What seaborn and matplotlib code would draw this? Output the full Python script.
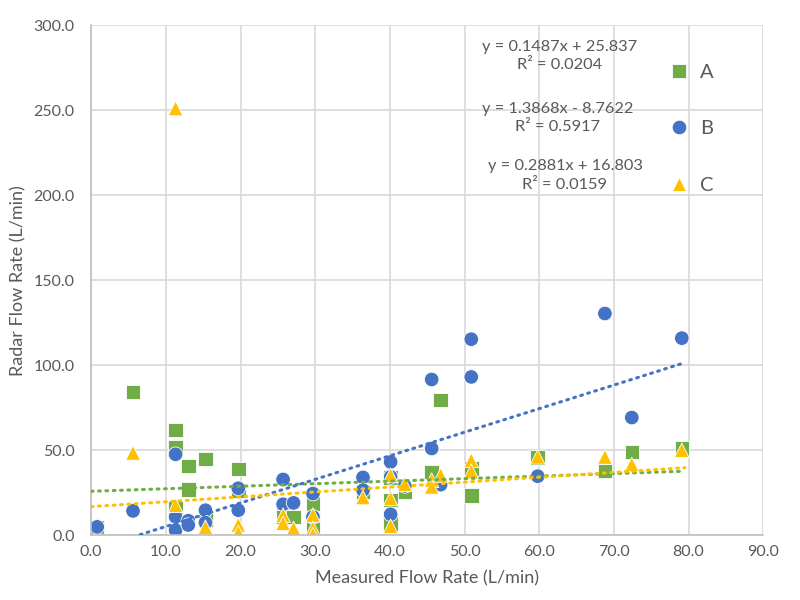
import numpy as np
import pandas as pd
import matplotlib
matplotlib.use('Agg')
import matplotlib.pyplot as plt
import seaborn as sns

a_x = [0.8, 5.6, 11.3, 11.3, 11.3, 13.0, 13.0, 15.3, 15.3, 19.7, 19.7, 25.7, 25.7, 27.1,
       29.7, 29.7, 29.7, 36.4, 40.1, 40.1, 40.1, 42.0, 45.6, 46.8, 50.9, 50.9, 59.8, 68.8,
       72.4, 79.1]
a_y = [4.9, 84.3, 61.8, 52.0, 16.0, 40.8, 27.0, 44.7, 9.0, 39.0, 26.0, 16.7, 10.8, 10.8,
       18.8, 8.8, 5.0, 25.5, 34.0, 20.6, 6.9, 25.5, 37.3, 79.6, 39.2, 23.5, 45.7, 37.8,
       49.0, 51.0]

b_x = [0.8, 5.6, 11.3, 11.3, 11.3, 13.0, 13.0, 15.3, 15.3, 19.7, 19.7, 25.7, 25.7, 27.1,
       29.7, 29.7, 36.4, 36.4, 40.1, 40.1, 40.1, 42.0, 45.6, 45.6, 46.8, 50.9, 50.9, 59.8,
       68.8, 72.4, 79.1]
b_y = [4.9, 14.3, 47.6, 10.8, 3.0, 8.5, 6.0, 14.7, 7.4, 27.6, 14.7, 32.8, 18.2, 19.0,
       24.5, 10.8, 34.0, 26.5, 43.1, 34.3, 12.3, 29.0, 91.6, 51.0, 29.7, 115.3, 93.1, 34.7,
       130.4, 69.2, 115.9]

c_x = [5.6, 11.3, 11.3, 15.3, 19.7, 19.7, 25.7, 25.7, 27.1, 29.7, 29.7, 29.7, 36.4, 40.1,
       40.1, 40.1, 42.0, 45.6, 45.6, 46.8, 50.9, 50.9, 59.8, 68.8, 72.4, 79.1]
c_y = [48.4, 251.0, 17.6, 4.7, 6.0, 1.5, 11.8, 7.0, 4.0, 11.8, 4.0, 0.5, 22.2, 35.3,
       21.6, 5.3, 30.0, 32.4, 28.4, 35.3, 44.0, 37.6, 46.1, 46.0, 41.6, 50.0]

# 趋势线 (图中公式)
series = ['A', 'B', 'C']
slopes = [0.1487, 1.3868, 0.2881]
intercepts = [25.837, -8.7622, 16.803]
r2 = ['0.0204', '0.5917', '0.0159']
equations = ['y = 0.1487x + 25.837', 'y = 1.3868x - 8.7622', 'y = 0.2881x + 16.803']

colors = {'A': '#70AD47', 'B': '#4472C4', 'C': '#FFC000'}
markers = {'A': 's', 'B': 'o', 'C': '^'}

df = pd.concat([
    pd.DataFrame({'x': a_x, 'y': a_y, 'series': 'A'}),
    pd.DataFrame({'x': b_x, 'y': b_y, 'series': 'B'}),
    pd.DataFrame({'x': c_x, 'y': c_y, 'series': 'C'}),
], ignore_index=True)

sns.set_style('white')
plt.rcParams['font.family'] = ['Lato', 'DejaVu Sans']
grey = '#595959'

fig = plt.figure(figsize=(8, 6), dpi=100)
ax = fig.add_axes([0.114, 0.108, 0.84, 0.85])

sns.scatterplot(data=df, x='x', y='y', hue='series', style='series',
                palette=colors, markers=markers, s=110, linewidth=0.6,
                edgecolor='white', ax=ax, zorder=2)

# 趋势线
for i, name in enumerate(series):
    xs = np.array([0.0, 79.5])
    ax.plot(xs, slopes[i] * xs + intercepts[i], color=colors[name], lw=2.2,
            linestyle=(0, (0.6, 1.8)), dash_capstyle='round', zorder=3)

ax.set_xlim(0, 90)
ax.set_ylim(0, 300)
ax.set_xticks(np.arange(0, 91, 10))
ax.set_yticks(np.arange(0, 301, 50))
ax.xaxis.set_major_formatter(matplotlib.ticker.FormatStrFormatter('%.1f'))
ax.yaxis.set_major_formatter(matplotlib.ticker.FormatStrFormatter('%.1f'))
ax.tick_params(axis='both', length=0, labelsize=11.5, labelcolor=grey)
ax.tick_params(axis='y', pad=12)
ax.tick_params(axis='x', pad=7)
ax.grid(True, color='#D9D9D9', lw=1.2)
ax.set_axisbelow(True)
for s in ['top', 'right']:
    ax.spines[s].set_visible(False)
for s in ['left', 'bottom']:
    ax.spines[s].set_color('#BFBFBF')
    ax.spines[s].set_linewidth(1.2)

ax.set_xlabel('Measured Flow Rate (L/min)', fontsize=13, color=grey, labelpad=8)
ax.set_ylabel('Radar Flow Rate (L/min)', fontsize=13, color=grey, labelpad=5)

# 公式文本
eq_pos = [(0.697, 0.94), (0.694, 0.818), (0.705, 0.705)]
for i in range(3):
    px, py = eq_pos[i]
    ax.text(px, py, equations[i] + '\nR² = ' + r2[i], transform=ax.transAxes,
            ha='center', va='center', fontsize=11.8, color=grey, linespacing=1.4)

handles, labels = ax.get_legend_handles_labels()
leg = ax.legend(handles, labels, loc='upper left', bbox_to_anchor=(0.818, 0.96),
                frameon=False, fontsize=14.5, labelspacing=1.95, handletextpad=0.05,
                markerscale=1.0)
for t in leg.get_texts():
    t.set_color(grey)

fig.savefig('out.png', dpi=100)
